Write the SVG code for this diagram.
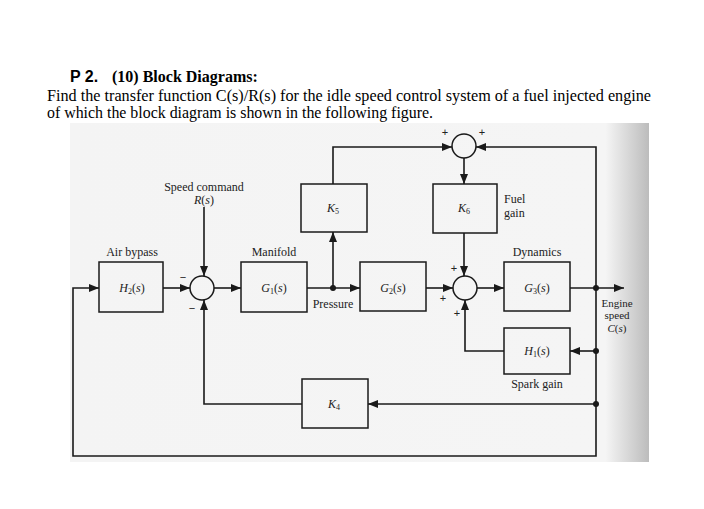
<svg xmlns="http://www.w3.org/2000/svg" width="704" height="509" viewBox="0 0 704 509">
<defs>
<linearGradient id="shade" x1="0" y1="0" x2="1" y2="0">
<stop offset="0" stop-color="#f4f4f4"/>
<stop offset="0.925" stop-color="#f5f5f5"/>
<stop offset="1" stop-color="#bcbcbc"/>
</linearGradient>
<marker id="ah" markerUnits="userSpaceOnUse" markerWidth="10" markerHeight="8" refX="10" refY="4" orient="auto">
<path d="M0,0 L10,4 L0,8 z" fill="#1a1a1a"/>
</marker>
</defs>
<style>
.hd{font-family:"Liberation Serif","Times New Roman",serif;font-size:16px;fill:#000}
.lb{font-family:"Liberation Serif","Times New Roman",serif;font-size:12px;fill:#222}
.sm{font-family:"Liberation Serif","Times New Roman",serif;font-size:11px;fill:#222}
.mt{font-family:"Liberation Serif","Times New Roman",serif;font-size:12px;font-style:italic;fill:#222}
.sb{font-style:normal;font-size:8px}
.blk{fill:none;stroke:#1a1a1a;stroke-width:1.5}
.sum{fill:none;stroke:#1a1a1a;stroke-width:1.5}
.ln{fill:none;stroke:#1a1a1a;stroke-width:1.6}
.ar{fill:none;stroke:#1a1a1a;stroke-width:1.6;marker-end:url(#ah)}
.dot{fill:#1a1a1a}
.sg{font-family:"Liberation Sans",Arial,sans-serif;font-size:11px;fill:#222;text-anchor:middle}
</style>
<rect width="704" height="509" fill="#ffffff"/>
<!-- header -->
<text x="70" y="82" font-family="'Liberation Sans',Arial,sans-serif" font-size="16" font-weight="bold">P 2.</text>
<text x="112" y="82" class="hd" font-weight="bold">(10) Block Diagrams:</text>
<text x="47" y="101" class="hd" textLength="604" lengthAdjust="spacingAndGlyphs">Find the transfer function C(s)/R(s) for the idle speed control system of a fuel injected engine</text>
<text x="47" y="118" class="hd" textLength="386" lengthAdjust="spacingAndGlyphs">of which the block diagram is shown in the following figure.</text>
<!-- scanned figure background -->
<rect x="70" y="123" width="579" height="339" fill="url(#shade)"/>

<g id="connectors">
<path class="ar" d="M204,207 V276"/>
<path class="ar" d="M163,288 H190"/>
<path class="ar" d="M214,288 H241"/>
<path class="ar" d="M307,288 H360"/>
<path class="ar" d="M333,288 V232"/>
<path class="ar" d="M333,184 V147 H452"/>
<path class="ar" d="M464,158 V184"/>
<path class="ar" d="M464,233 V276"/>
<path class="ar" d="M426,288 H453"/>
<path class="ar" d="M477,288 H504"/>
<path class="ar" d="M570,288 H624"/>
<path class="ar" d="M596,288 V147 H476"/>
<path class="ar" d="M596,288 V456 H73 V288 H99"/>
<path class="ar" d="M596,351 H570"/>
<path class="ar" d="M504,351 H465 V300"/>
<path class="ar" d="M596,404 H368"/>
<path class="ar" d="M302,404 H204 V300"/>
<circle class="dot" cx="333" cy="288" r="3"/>
<circle class="dot" cx="596" cy="288" r="3"/>
<circle class="dot" cx="596" cy="351" r="3"/>
<circle class="dot" cx="596" cy="404" r="3"/>
</g>

<g id="input">
<text x="204" y="191" class="lb" text-anchor="middle">Speed command</text>
<text x="204" y="204" class="mt" text-anchor="middle">R<tspan font-style="normal">(</tspan>s<tspan font-style="normal">)</tspan></text>
</g>
<g id="H2">
<rect class="blk" x="99" y="262" width="64" height="50"/>
<text x="132" y="256" class="lb" text-anchor="middle">Air bypass</text>
<text x="132" y="292" class="mt" text-anchor="middle">H<tspan class="sb" dy="2">2</tspan><tspan font-style="normal" dy="-2">(</tspan>s<tspan font-style="normal">)</tspan></text>
</g>
<g id="sum1">
<circle class="sum" cx="202" cy="288" r="12"/>
<text x="183" y="281" class="sg">−</text>
<text x="192" y="312" class="sg">−</text>
</g>
<g id="G1">
<rect class="blk" x="241" y="262" width="66" height="50"/>
<text x="274" y="256" class="lb" text-anchor="middle">Manifold</text>
<text x="274" y="292" class="mt" text-anchor="middle">G<tspan class="sb" dy="2">1</tspan><tspan font-style="normal" dy="-2">(</tspan>s<tspan font-style="normal">)</tspan></text>
<text x="333" y="308" class="lb" text-anchor="middle">Pressure</text>
</g>
<g id="K5">
<rect class="blk" x="301" y="184" width="66" height="48"/>
<text x="333" y="212" class="mt" text-anchor="middle">K<tspan class="sb" dy="2">5</tspan></text>
</g>
<g id="sumTop">
<circle class="sum" cx="464" cy="146" r="12"/>
<text x="445" y="136" class="sg">+</text>
<text x="482" y="136" class="sg">+</text>
</g>
<g id="K6">
<rect class="blk" x="433" y="184" width="64" height="49"/>
<text x="464" y="212" class="mt" text-anchor="middle">K<tspan class="sb" dy="2">6</tspan></text>
<text x="504" y="203" class="lb">Fuel</text>
<text x="504" y="217" class="lb">gain</text>
</g>
<g id="G2">
<rect class="blk" x="360" y="262" width="66" height="49"/>
<text x="393" y="292" class="mt" text-anchor="middle">G<tspan class="sb" dy="2">2</tspan><tspan font-style="normal" dy="-2">(</tspan>s<tspan font-style="normal">)</tspan></text>
</g>
<g id="sum2">
<circle class="sum" cx="465" cy="288" r="12"/>
<text x="454" y="272" class="sg">+</text>
<text x="443" y="302" class="sg">+</text>
<text x="457" y="317" class="sg">+</text>
</g>
<g id="G3">
<rect class="blk" x="504" y="262" width="66" height="49"/>
<text x="537" y="256" class="lb" text-anchor="middle">Dynamics</text>
<text x="537" y="292" class="mt" text-anchor="middle">G<tspan class="sb" dy="2">3</tspan><tspan font-style="normal" dy="-2">(</tspan>s<tspan font-style="normal">)</tspan></text>
</g>
<g id="output">
<text x="617" y="307" class="sm" text-anchor="middle">Engine</text>
<text x="617" y="319" class="sm" text-anchor="middle">speed</text>
<text x="617" y="332" class="sm" text-anchor="middle" font-style="italic">C<tspan font-style="normal">(</tspan>s<tspan font-style="normal">)</tspan></text>
</g>
<g id="H1">
<rect class="blk" x="504" y="328" width="66" height="46"/>
<text x="537" y="355" class="mt" text-anchor="middle">H<tspan class="sb" dy="2">1</tspan><tspan font-style="normal" dy="-2">(</tspan>s<tspan font-style="normal">)</tspan></text>
<text x="537" y="388" class="lb" text-anchor="middle">Spark gain</text>
</g>
<g id="K4">
<rect class="blk" x="302" y="379" width="66" height="49"/>
<text x="334" y="408" class="mt" text-anchor="middle">K<tspan class="sb" dy="2">4</tspan></text>
</g>
</svg>
